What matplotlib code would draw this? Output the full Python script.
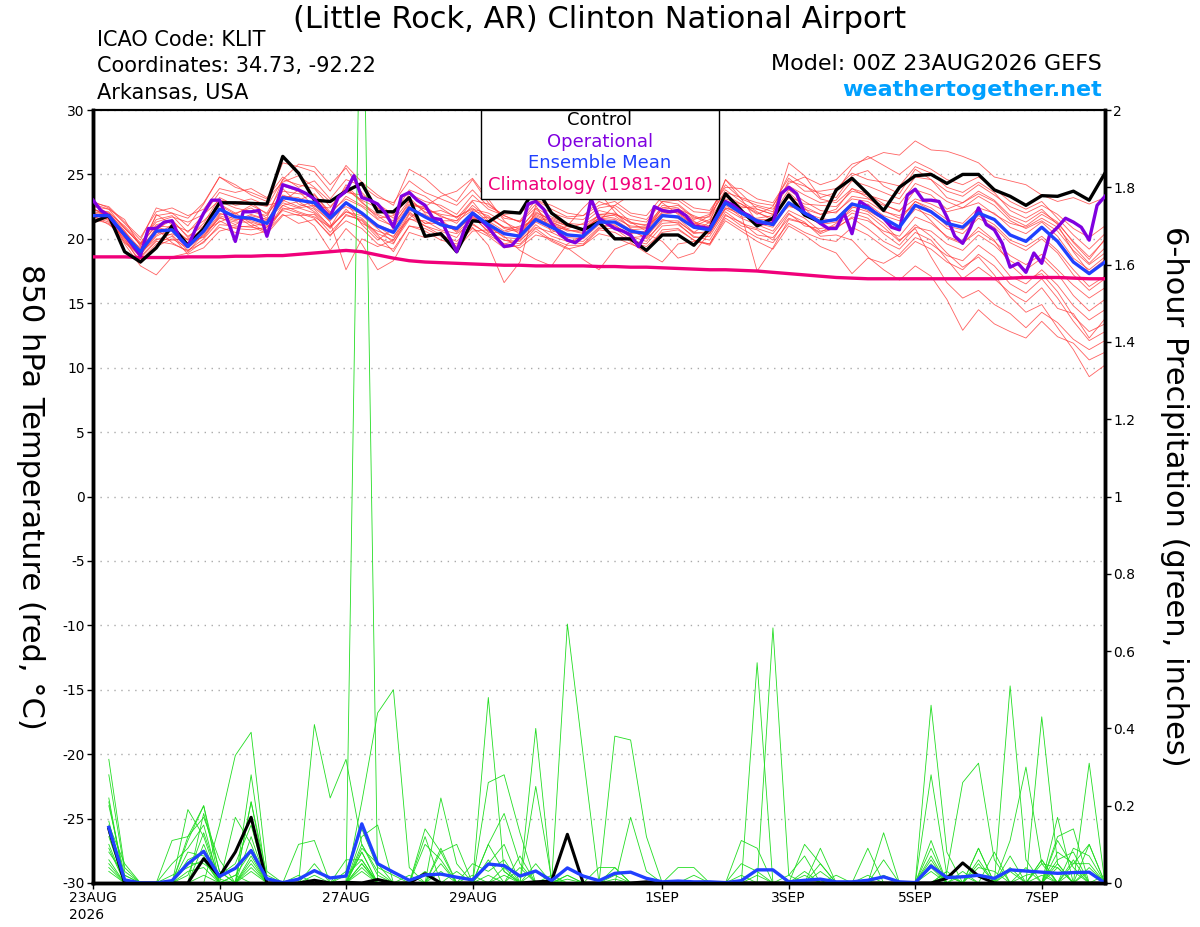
import numpy as np
import matplotlib
matplotlib.use("Agg")
import matplotlib.pyplot as plt
from matplotlib.patches import Rectangle
from matplotlib.ticker import FuncFormatter

plt.rcParams["font.family"] = ["DejaVu Sans"]
plt.rcParams["axes.unicode_minus"] = False

# forecast hours from 00Z 23AUG2026
temp_hours = np.arange(0, 385, 6)
op_hours = np.arange(0, 385, 3)
precip_hours = np.arange(6, 385, 6)

tick_hours = [0, 48, 96, 144, 216, 264, 312, 360]
tick_labels = ["23AUG\n2026", "25AUG", "27AUG", "29AUG", "1SEP", "3SEP", "5SEP", "7SEP"]

# 850 hPa temperature (C)
control_t = [21.3, 21.8, 19.0, 18.2, 19.3, 21.0, 19.5, 20.8, 22.8, 22.8,
             22.75, 22.7, 26.4, 25.1, 23.0, 22.9, 23.7, 24.3, 22.1, 22.1,
             23.2, 20.2, 20.4, 19.0, 21.4, 21.3, 22.1, 22.0, 24.0, 22.0,
             21.1, 20.7, 21.3, 20.0, 20.0, 19.1, 20.3, 20.3, 19.5, 20.8,
             23.5, 22.2, 21.0, 21.6, 23.4, 21.85, 21.3, 23.8, 24.7, 23.5,
             22.2, 24.0, 24.9, 25.0, 24.3, 25.0, 25.0, 23.8, 23.3, 22.6,
             23.35, 23.3, 23.7, 23.0, 25.1]

# operational run, 3-hourly
oper_t = [23.0, 22.2, 21.8, 21.0, 20.3, 19.5, 18.7, 20.8, 20.8, 21.3,
          21.4, 20.0, 19.4, 20.8, 22.0, 23.0, 23.0, 21.5, 19.8, 22.1,
          22.1, 22.2, 20.2, 22.2, 24.2, 24.0, 23.8, 23.5, 23.1, 22.3,
          21.7, 23.2, 23.7, 24.9, 23.2, 23.0, 22.7, 22.0, 20.9, 23.3,
          23.6, 23.0, 22.6, 21.6, 21.5, 20.2, 19.0, 20.8, 22.0, 21.5,
          20.9, 20.1, 19.4, 19.5, 20.2, 22.7, 22.9, 22.3, 21.2, 20.4,
          19.9, 19.7, 20.2, 23.1, 21.6, 21.2, 20.8, 20.6, 20.3, 19.4,
          20.5, 22.5, 22.2, 22.1, 22.2, 21.8, 21.0, 20.9, 20.8, 21.8,
          22.9, 22.6, 22.1, 21.8, 21.3, 21.2, 21.2, 23.5, 24.0, 23.5,
          22.0, 21.7, 21.2, 20.8, 20.8, 22.0, 20.4, 22.9, 22.5, 22.0,
          21.6, 20.9, 20.7, 23.4, 23.85, 23.0, 23.0, 22.9, 21.7, 20.2,
          19.65, 20.9, 22.4, 21.1, 20.7, 19.65, 17.8, 18.1, 17.4, 18.9,
          18.1, 20.3, 20.9, 21.6, 21.3, 20.9, 19.9, 22.6, 23.3]

mean_t = [21.8, 21.8, 20.3, 19.0, 20.6, 20.7, 19.4, 20.6, 22.3, 21.7,
          21.6, 21.2, 23.2, 23.0, 22.8, 21.6, 22.8, 22.0, 21.0, 20.5,
          22.4, 21.7, 21.1, 20.8, 22.0, 21.1, 20.4, 20.2, 21.5, 20.9,
          20.3, 20.2, 21.3, 21.3, 20.6, 20.4, 21.8, 21.7, 20.9, 20.7,
          22.8, 22.0, 21.4, 21.1, 22.8, 22.0, 21.3, 21.5, 22.7, 22.4,
          21.6, 20.9, 22.6, 22.1, 21.2, 20.9, 22.0, 21.5, 20.3, 19.8,
          20.9, 19.8, 18.2, 17.3, 18.2]

clim_t = [18.6, 18.6, 18.6, 18.55, 18.55, 18.55, 18.6, 18.6, 18.6, 18.65,
          18.65, 18.7, 18.7, 18.8, 18.9, 19.0, 19.1, 19.0, 18.75, 18.5,
          18.3, 18.2, 18.15, 18.1, 18.05, 18.0, 17.95, 17.95, 17.9, 17.9,
          17.9, 17.9, 17.85, 17.85, 17.8, 17.8, 17.75, 17.7, 17.65, 17.6,
          17.6, 17.55, 17.5, 17.4, 17.3, 17.2, 17.1, 17.0, 16.95, 16.9,
          16.9, 16.9, 16.9, 16.9, 16.9, 16.9, 16.9, 16.9, 16.95, 17.0,
          17.0, 17.0, 16.95, 16.9, 16.9]

members_t = [
    [22.5, 22.3, 20.8, 19.6, 21.5, 21.8, 20.5, 21.9, 23.6, 23.2,
     22.8, 22.5, 24.6, 24.2, 23.9, 22.5, 23.8, 23.0, 22.4, 21.6,
     23.5, 22.9, 22.6, 21.9, 23.4, 22.3, 21.8, 21.3, 22.7, 22.0,
     21.6, 21.5, 22.4, 22.6, 21.8, 21.5, 22.9, 23.0, 22.1, 22.0,
     24.2, 23.1, 22.6, 22.3, 24.1, 23.4, 22.8, 23.0, 24.5, 24.1,
     23.6, 23.1, 24.8, 24.6, 23.7, 23.3, 24.2, 23.4, 22.5, 22.0,
     22.6, 21.9, 20.8, 20.1, 21.0],
    [22.0, 21.4, 19.6, 17.9, 17.2, 18.6, 18.9, 19.8, 20.9, 20.5,
     20.3, 20.6, 21.9, 21.2, 21.5, 20.3, 21.4, 20.8, 19.6, 19.2,
     21.0, 20.6, 19.9, 19.6, 20.8, 20.2, 19.3, 19.5, 20.6, 19.8,
     19.2, 19.5, 20.4, 20.1, 19.6, 19.1, 20.7, 20.8, 19.9, 19.6,
     21.6, 20.8, 20.1, 19.7, 21.2, 20.5, 20.0, 19.8, 20.9, 20.3,
     19.4, 18.6, 19.8, 19.2, 18.2, 17.6, 18.8, 17.9, 16.5, 15.8,
     16.9, 15.4, 13.6, 12.1, 12.8],
    [22.9, 22.4, 21.2, 19.9, 22.4, 22.0, 21.0, 22.7, 24.8, 24.2,
     23.4, 22.9, 25.9, 25.6, 25.2, 23.7, 25.7, 24.4, 23.4, 22.6,
     25.4, 24.7, 23.6, 22.9, 24.6, 22.8, 21.6, 21.4, 23.0, 22.6,
     22.0, 21.8, 22.9, 22.4, 21.3, 20.6, 22.4, 22.6, 21.6, 21.7,
     23.8, 22.9, 22.1, 21.4, 23.6, 22.5, 21.9, 22.3, 23.9, 23.5,
     22.7, 22.1, 23.8, 23.4, 22.3, 22.8, 23.5, 22.9, 21.6, 21.0,
     21.9, 21.2, 19.8, 18.6, 19.9],
    [21.6, 21.9, 20.1, 18.8, 20.2, 20.8, 19.9, 20.1, 21.7, 21.1,
     21.8, 21.5, 22.6, 22.9, 22.1, 21.0, 22.1, 21.6, 20.4, 19.9,
     22.0, 21.2, 21.5, 20.5, 21.5, 21.7, 20.9, 20.6, 21.9, 21.3,
     20.7, 20.4, 21.9, 21.8, 20.9, 20.9, 22.3, 22.0, 21.2, 20.9,
     22.6, 21.7, 21.6, 21.8, 23.2, 22.4, 21.1, 21.3, 22.2, 21.9,
     20.9, 19.8, 21.1, 20.2, 18.9, 17.8, 18.6, 17.2, 15.5, 14.3,
     14.9, 13.1, 11.4, 9.3, 10.2],
    [21.3, 21.7, 20.6, 19.2, 20.8, 19.7, 19.0, 20.4, 21.9, 22.0,
     21.2, 20.5, 22.4, 22.0, 21.6, 20.2, 21.9, 21.4, 20.1, 19.6,
     21.9, 21.0, 20.3, 19.8, 20.9, 19.5, 16.6, 18.2, 22.6, 20.5,
     21.0, 22.4, 23.6, 22.1, 20.8, 20.0, 21.2, 21.3, 20.5, 20.4,
     22.3, 21.6, 21.1, 20.6, 22.2, 21.6, 20.6, 20.8, 21.7, 21.4,
     20.6, 20.2, 21.7, 21.2, 20.2, 19.7, 20.6, 19.8, 18.7, 18.0,
     18.8, 17.6, 16.4, 15.4, 16.2],
    [22.2, 22.1, 20.9, 19.5, 21.1, 21.4, 20.2, 21.0, 22.9, 22.4,
     22.1, 21.8, 23.7, 23.5, 23.4, 22.1, 23.1, 22.5, 21.5, 21.0,
     22.9, 22.3, 21.8, 21.2, 22.6, 21.6, 20.9, 20.9, 22.1, 21.4,
     21.0, 20.8, 21.9, 22.0, 21.2, 21.1, 22.4, 22.3, 21.5, 21.9,
     23.6, 23.2, 22.8, 22.6, 24.3, 24.8, 24.2, 24.6, 25.8, 26.2,
     26.7, 26.5, 27.6, 26.9, 26.8, 26.4, 25.9, 24.8, 24.5, 24.2,
     23.4, 22.9, 23.2, 22.7, 23.2],
    [21.5, 21.2, 19.8, 18.3, 19.6, 20.2, 18.8, 19.3, 20.6, 20.9,
     21.0, 20.4, 21.8, 21.9, 21.0, 19.1, 20.8, 19.6, 17.6, 18.3,
     20.5, 20.1, 20.4, 19.4, 21.1, 20.4, 19.9, 19.6, 20.8, 19.9,
     19.3, 18.4, 17.6, 19.2, 19.7, 18.9, 18.2, 19.6, 19.8, 19.6,
     21.8, 21.3, 20.3, 20.1, 21.6, 21.2, 20.4, 20.9, 21.6, 20.8,
     19.8, 19.2, 20.5, 19.9, 18.4, 16.9, 17.8, 16.9, 15.8, 15.1,
     16.2, 14.6, 14.2, 12.3, 13.8],
    [22.4, 21.6, 20.4, 19.1, 21.9, 21.1, 20.6, 21.4, 22.6, 21.9,
     22.6, 22.0, 24.1, 23.7, 22.5, 22.4, 24.0, 22.8, 21.9, 21.4,
     23.0, 22.1, 21.4, 21.4, 22.9, 21.4, 20.6, 21.0, 21.4, 21.6,
     21.1, 20.6, 21.6, 21.9, 21.5, 21.3, 22.9, 22.7, 21.7, 21.2,
     23.3, 22.5, 22.3, 21.9, 23.8, 22.9, 22.2, 22.0, 23.3, 23.1,
     22.6, 22.2, 23.1, 22.7, 22.1, 22.4, 22.8, 21.9, 21.2, 20.9,
     21.6, 20.9, 19.4, 18.1, 19.3],
    [21.9, 21.5, 19.9, 18.6, 19.9, 20.4, 19.7, 20.9, 22.0, 21.5,
     21.5, 21.4, 23.0, 22.5, 22.9, 21.8, 22.5, 21.9, 21.0, 20.1,
     22.2, 21.9, 21.2, 20.9, 21.6, 21.0, 20.1, 20.0, 21.3, 20.7,
     20.1, 20.0, 21.1, 20.9, 20.2, 19.8, 21.4, 21.4, 20.4, 20.6,
     22.4, 22.1, 21.5, 21.5, 22.6, 22.0, 21.6, 21.4, 22.5, 22.1,
     21.2, 19.9, 20.8, 18.6, 16.6, 15.4, 16.0, 14.9, 14.2, 13.1,
     14.3, 13.5, 12.2, 11.4, 12.1],
    [22.7, 22.3, 21.5, 19.4, 21.8, 22.0, 21.6, 22.8, 24.8, 24.0,
     23.6, 23.1, 24.4, 24.9, 24.0, 22.9, 23.6, 23.4, 22.7, 21.9,
     23.8, 23.3, 22.4, 21.6, 23.0, 22.7, 21.8, 21.3, 22.4, 21.7,
     21.2, 21.1, 21.8, 21.6, 21.0, 20.9, 22.0, 22.3, 21.8, 21.3,
     23.1, 22.7, 21.9, 22.5, 25.0, 24.2, 23.1, 22.8, 23.9, 23.2,
     22.2, 21.6, 22.9, 22.2, 21.0, 20.7, 21.8, 21.1, 19.9, 19.4,
     20.2, 19.1, 17.6, 16.3, 17.1],
    [21.9, 22.0, 20.6, 18.9, 20.3, 21.1, 19.5, 20.2, 21.8, 21.4,
     21.9, 21.5, 22.8, 22.4, 22.6, 21.3, 17.6, 20.0, 19.4, 19.9,
     21.6, 22.5, 23.3, 23.7, 24.7, 23.1, 21.4, 20.3, 21.7, 21.0,
     20.7, 20.5, 21.5, 21.0, 20.4, 20.6, 22.1, 22.1, 21.4, 20.4,
     22.4, 21.9, 17.5, 19.3, 21.5, 21.2, 20.5, 21.2, 22.4, 22.7,
     21.8, 21.4, 22.9, 22.4, 21.5, 21.2, 22.4, 22.0, 20.9, 20.4,
     21.3, 20.2, 18.5, 17.6, 18.6],
    [22.1, 21.9, 20.8, 19.6, 21.0, 20.9, 19.9, 20.8, 22.7, 22.0,
     22.4, 21.6, 24.6, 25.8, 25.6, 24.2, 25.5, 23.6, 22.4, 21.2,
     22.7, 22.3, 21.9, 21.7, 22.4, 21.3, 20.4, 20.3, 22.0, 21.5,
     21.0, 20.8, 21.6, 21.3, 20.6, 20.1, 21.8, 21.6, 20.5, 21.3,
     24.6, 23.5, 22.3, 21.9, 25.9, 24.9, 23.2, 23.6, 25.5, 26.4,
     25.7, 25.0, 26.0, 25.4, 24.6, 24.2, 24.8, 23.9, 22.9, 22.3,
     22.9, 21.6, 20.3, 19.2, 20.4],
    [21.4, 21.6, 20.1, 18.5, 19.8, 19.6, 19.1, 20.0, 21.4, 20.8,
     20.7, 20.9, 22.3, 22.4, 22.0, 20.8, 22.3, 21.2, 20.6, 20.2,
     21.6, 21.0, 20.6, 20.1, 21.7, 20.6, 19.9, 19.8, 21.1, 20.2,
     19.8, 19.6, 20.8, 20.8, 19.9, 19.6, 21.0, 21.1, 20.2, 19.9,
     21.9, 21.0, 20.7, 19.9, 21.9, 21.3, 20.2, 20.3, 19.9, 18.6,
     17.6, 16.8, 17.9, 17.1, 15.3, 12.9, 14.5, 13.4, 12.8, 12.3,
     13.6, 12.4, 11.9, 10.6, 11.2],
    [22.3, 21.8, 20.3, 19.3, 20.7, 21.5, 20.1, 21.2, 23.2, 22.6,
     22.8, 21.9, 23.4, 23.0, 23.5, 21.9, 23.3, 22.6, 21.8, 20.9,
     22.6, 22.5, 21.7, 21.4, 22.2, 21.8, 20.8, 20.5, 21.8, 21.2,
     20.6, 20.7, 21.6, 21.5, 20.7, 20.8, 22.6, 22.4, 21.3, 21.0,
     22.9, 22.4, 22.5, 22.1, 24.5, 24.1, 23.5, 23.2, 24.9, 25.3,
     24.1, 23.5, 25.4, 24.6, 23.2, 22.8, 23.7, 23.0, 21.8, 21.3,
     22.1, 21.3, 19.7, 18.4, 20.0],
    [21.7, 21.3, 20.0, 18.1, 19.4, 20.0, 19.3, 20.3, 21.6, 21.3,
     21.3, 20.9, 22.2, 21.8, 21.9, 20.5, 21.8, 21.5, 20.3, 19.0,
     21.0, 20.8, 20.2, 19.2, 20.6, 20.7, 19.6, 19.3, 20.3, 20.0,
     19.5, 19.5, 20.7, 20.5, 19.8, 19.4, 20.5, 20.7, 19.9, 19.5,
     21.4, 20.6, 19.8, 19.2, 21.0, 20.3, 19.4, 18.9, 17.3, 18.5,
     18.1, 18.8, 20.1, 19.6, 18.7, 18.3, 19.5, 18.6, 17.1, 16.5,
     17.6, 16.4, 14.8, 13.7, 14.5],
    [22.0, 21.7, 20.5, 19.0, 20.9, 20.6, 19.4, 20.8, 22.2, 21.8,
     21.4, 21.0, 23.3, 23.2, 22.4, 21.4, 22.7, 22.0, 21.1, 20.6,
     22.3, 21.8, 21.0, 20.7, 21.9, 20.9, 20.2, 19.1, 18.4, 17.9,
     19.6, 20.3, 21.2, 21.3, 20.5, 20.4, 19.8, 18.5, 18.9, 20.5,
     22.7, 22.1, 21.2, 20.9, 22.7, 21.9, 21.1, 21.6, 22.8, 22.2,
     21.5, 20.9, 22.3, 21.8, 20.8, 20.4, 21.6, 20.9, 19.7, 19.1,
     20.0, 18.9, 17.2, 16.0, 16.9],
    [22.6, 22.0, 21.0, 19.7, 21.3, 21.7, 21.3, 21.9, 23.0, 22.8,
     23.1, 22.6, 22.9, 23.8, 23.1, 22.0, 24.2, 22.9, 21.6, 21.8,
     23.2, 22.0, 22.2, 21.7, 22.3, 22.0, 21.3, 20.7, 22.3, 21.3,
     20.8, 21.2, 22.2, 21.9, 21.3, 21.0, 21.9, 22.1, 21.0, 21.5,
     23.4, 22.7, 22.0, 21.6, 23.3, 22.7, 22.6, 22.5, 23.7, 23.4,
     23.0, 22.7, 24.3, 23.8, 22.9, 22.4, 23.3, 22.6, 21.4, 20.8,
     21.4, 20.6, 19.1, 18.0, 18.9],
    [21.2, 21.8, 19.7, 18.7, 20.5, 20.3, 19.1, 19.7, 21.1, 21.0,
     20.9, 20.7, 22.6, 22.1, 21.7, 20.9, 22.1, 21.8, 20.8, 19.7,
     21.5, 21.4, 20.7, 20.4, 21.2, 20.3, 19.6, 19.9, 20.9, 20.5,
     19.9, 19.8, 20.9, 21.1, 20.1, 20.2, 21.5, 21.2, 20.1, 20.2,
     22.1, 21.2, 20.8, 20.4, 22.0, 21.0, 20.8, 21.0, 22.0, 21.6,
     20.4, 19.5, 20.9, 20.6, 19.6, 19.1, 20.3, 19.5, 18.3, 17.6,
     18.5, 17.3, 15.6, 14.4, 15.3],
    [22.8, 22.5, 21.3, 20.1, 22.1, 22.4, 21.8, 22.3, 23.9, 23.6,
     23.9, 23.2, 24.8, 24.0, 24.5, 23.1, 24.6, 24.1, 23.2, 22.8,
     24.5, 23.6, 23.1, 22.6, 23.8, 22.5, 21.9, 22.0, 23.0, 22.3,
     21.7, 21.8, 22.6, 22.9, 22.0, 21.8, 23.3, 23.2, 22.4, 22.2,
     24.0, 23.9, 23.1, 22.8, 24.7, 23.7, 23.7, 23.9, 25.1, 24.6,
     24.4, 24.1, 25.6, 25.1, 24.0, 23.6, 24.4, 23.6, 22.2, 21.6,
     22.3, 21.1, 19.0, 17.4, 18.4],
    [21.8, 21.1, 20.2, 18.9, 20.0, 19.9, 20.0, 20.6, 21.3, 21.8,
     21.0, 21.2, 23.9, 22.7, 22.3, 20.9, 22.9, 21.1, 19.9, 20.8,
     22.1, 21.2, 21.2, 20.6, 21.8, 20.5, 20.5, 20.8, 21.6, 21.1,
     20.4, 20.1, 21.4, 22.6, 23.4, 24.0, 22.8, 21.9, 21.1, 21.8,
     24.6, 23.1, 21.3, 21.4, 22.5, 22.3, 21.9, 22.1, 23.1, 22.9,
     22.1, 21.8, 22.6, 21.4, 20.1, 19.6, 20.9, 19.9, 18.0, 16.9,
     17.3, 15.9, 14.0, 12.8, 13.4],
]

# 6-hour precipitation (inches)
control_p = [0.14, 0, 0, 0, 0, 0, 0.063, 0.017, 0.08, 0.17,
             0, 0, 0, 0.007, 0, 0.002, 0, 0.009, 0, 0,
             0.024, 0, 0, 0, 0, 0, 0, 0.003, 0.005, 0.126,
             0, 0, 0, 0, 0.003, 0, 0, 0, 0, 0,
             0, 0, 0, 0, 0, 0, 0, 0, 0, 0,
             0, 0, 0, 0.012, 0.052, 0.018, 0, 0, 0, 0,
             0, 0, 0, 0]

mean_p = [0.144, 0.008, 0, 0, 0.006, 0.05, 0.082, 0.017, 0.038, 0.084,
          0.011, 0.001, 0.01, 0.032, 0.013, 0.018, 0.153, 0.05, 0.028, 0.007,
          0.021, 0.023, 0.015, 0.008, 0.049, 0.045, 0.018, 0.031, 0.006, 0.039,
          0.018, 0.006, 0.025, 0.028, 0.012, 0.003, 0.005, 0.003, 0.003, 0.001,
          0.006, 0.034, 0.034, 0.003, 0.007, 0.01, 0.003, 0.003, 0.007, 0.016,
          0.003, 0.001, 0.044, 0.014, 0.016, 0.02, 0.012, 0.034, 0.031, 0.028,
          0.025, 0.027, 0.028, 0]

members_p = [
    [.32, .04, 0, 0, 0, 0, .10, 0,  0, .21, .02, 0, 0, 0, 0, 0,
     .08, 0, 0, 0, 0, .22, .05, 0,  0, 0, 0, 0, 0, .67, .33, 0,
     0, 0, 0, 0, 0, 0, 0, 0,  0, 0, 0, 0, .10, .05, 0, 0,
     0, 0, 0, 0, .46, .08, 0, 0,  0, 0, 0, .06, 0, 0, 0, 0],
    [.28, .03, 0, 0, 0, .19, .12, 0,  0, 0, 0, 0, 0, 0, 0, 0,
     2.6, .01, 0, 0, 0, 0, 0, 0,  .10, .03, 0, 0, 0, 0, 0, 0,
     .04, 0, 0, 0, 0, 0, 0, 0,  0, .57, 0, 0, 0, 0, 0, 0,
     0, 0, 0, 0, 0, 0, 0, .09,  0, .51, .06, 0, 0, 0, .10, 0],
    [.22, 0, 0, 0, .11, .12, .20, .03,  0, 0, 0, 0, 0, .41, .22, .32,
     .10, .02, 0, 0, 0, 0, 0, 0,  0, 0, 0, .40, 0, 0, 0, 0,
     0, 0, 0, 0, 0, 0, 0, 0,  0, 0, .66, .02, 0, 0, 0, 0,
     0, 0, 0, 0, 0, .03, .26, .31,  .06, 0, 0, 0, .17, 0, 0, 0],
    [.21, 0, 0, 0, 0, 0, 0, .15,  .33, .39, .03, 0, 0, 0, 0, 0,
     .21, .44, .50, .04, 0, 0, 0, 0,  .48, .03, 0, 0, 0, 0, 0, 0,
     .38, .37, .12, 0, 0, 0, 0, 0,  0, 0, 0, 0, 0, 0, 0, 0,
     0, 0, 0, 0, .28, .02, 0, 0,  0, 0, 0, .43, .05, 0, 0, 0],
    [.16, 0, 0, 0, 0, .12, .17, .06,  0, .28, 0, 0, .10, .11, 0, 0,
     0, 0, 0, 0, .14, .08, 0, 0,  .26, .28, .13, 0, 0, 0, 0, 0,
     0, 0, 0, 0, 0, 0, 0, 0,  .11, .09, 0, 0, 0, 0, 0, 0,
     0, .13, 0, 0, .11, 0, 0, 0,  0, .11, .30, .05, 0, 0, .31, 0],
    [.15, .05, 0, 0, 0, .11, .20, 0,  0, .21, 0, 0, 0, 0, 0, .06,
     .06, 0, 0, 0, 0, .09, 0, 0,  0, 0, 0, .25, .01, 0, 0, 0,
     0, .17, .03, 0, 0, 0, 0, 0,  0, 0, 0, 0, 0, .09, 0, 0,
     .09, 0, 0, 0, 0, 0, .03, 0,  0, 0, 0, 0, .12, .14, 0, 0],
    [.12, 0, 0, 0, .05, .09, .15, 0,  .17, .10, 0, 0, 0, 0, 0, 0,
     .12, .15, 0, 0, .12, 0, 0, 0,  .10, .18, .05, 0, 0, 0, 0, 0,
     0, 0, 0, 0, .04, .04, 0, 0,  0, 0, 0, .02, .07, 0, 0, 0,
     0, 0, 0, 0, .09, 0, 0, .09,  0, 0, 0, .06, 0, .05, .10, 0],
    [.10, 0, 0, 0, 0, .05, .05, .02,  .05, .15, 0, 0, 0, 0, 0, 0,
     .08, 0, 0, 0, 0, .08, .10, 0,  0, 0, 0, 0, 0, .02, 0, .04,
     .04, 0, 0, 0, 0, 0, 0, 0,  .05, .03, 0, 0, 0, 0, 0, 0,
     0, .06, 0, 0, .06, 0, 0, 0,  .08, 0, 0, 0, .06, .08, 0, 0],
    [.08, .02, 0, 0, 0, .06, .08, 0,  0, .07, 0, 0, 0, .05, 0, 0,
     .09, .05, 0, 0, 0, 0, 0, .05,  .03, .06, 0, .05, 0, 0, 0, 0,
     0, 0, 0, 0, 0, .02, 0, 0,  0, 0, 0, 0, 0, .05, 0, 0,
     0, 0, 0, 0, 0, .03, 0, 0,  0, .07, 0, 0, .05, 0, .04, 0],
    [.06, 0, 0, 0, 0, 0, .18, .03,  0, .05, 0, 0, .02, 0, 0, 0,
     .05, 0, 0, 0, .10, .06, 0, 0,  0, 0, .07, 0, .02, 0, 0, 0,
     0, 0, 0, 0, 0, 0, 0, 0,  0, 0, 0, 0, .03, 0, 0, 0,
     .02, 0, 0, 0, .04, 0, .02, 0,  0, 0, .02, .03, 0, .09, .07, 0],
    [.04, 0, 0, 0, 0, .03, .04, 0,  .02, .08, 0, 0, 0, 0, 0, .03,
     .14, .04, .02, 0, 0, 0, .03, 0,  .05, .10, 0, 0, 0, 0, 0, 0,
     0, 0, 0, 0, 0, 0, 0, 0,  .02, 0, 0, 0, 0, 0, 0, 0,
     0, 0, 0, 0, 0, 0, 0, .04,  .03, 0, 0, 0, .11, .04, 0, .02],
    [.03, 0, 0, 0, 0, .02, .13, .01,  0, .03, 0, 0, 0, .02, 0, 0,
     .03, 0, 0, .02, 0, .05, 0, 0,  .02, 0, 0, 0, 0, 0, 0, 0,
     .02, 0, 0, 0, 0, 0, 0, 0,  0, 0, 0, 0, 0, 0, .02, 0,
     0, 0, 0, 0, .03, 0, 0, 0,  0, .04, 0, .02, 0, .06, 0, 0],
    [.20, .02, 0, 0, 0, 0, .06, 0,  .02, 0, 0, 0, 0, 0, 0, 0,
     .04, 0, 0, 0, 0, 0, 0, .02,  0, .04, 0, 0, 0, .01, 0, 0,
     0, 0, 0, 0, 0, 0, 0, 0,  0, .02, 0, 0, 0, 0, 0, 0,
     0, 0, 0, 0, 0, .02, 0, .05,  0, 0, 0, 0, .04, 0, .03, 0],
    [.13, 0, 0, 0, 0, .08, .07, 0,  0, .12, 0, 0, 0, 0, 0, 0,
     .10, .03, 0, 0, 0, 0, 0, 0,  .06, 0, .04, 0, 0, 0, 0, 0,
     0, 0, 0, 0, 0, 0, 0, 0,  0, 0, 0, 0, .02, 0, 0, 0,
     0, 0, 0, 0, .05, 0, 0, 0,  0, .03, 0, 0, .08, .05, .05, 0],
    [.05, 0, 0, 0, 0, 0, .02, 0,  0, .04, 0, 0, 0, 0, 0, .02,
     .06, 0, 0, 0, .03, 0, 0, 0,  0, 0, 0, .03, 0, 0, 0, 0,
     .01, 0, 0, 0, 0, 0, 0, 0,  0, 0, 0, 0, 0, .03, 0, 0,
     0, 0, 0, 0, 0, 0, 0, .06,  0, 0, .04, 0, 0, .03, 0, 0],
    [.09, 0, 0, 0, .02, .04, .06, 0,  0, .06, 0, 0, 0, 0, 0, 0,
     .05, 0, 0, 0, 0, .03, 0, 0,  0, .02, 0, 0, 0, .02, 0, 0,
     0, 0, 0, 0, 0, 0, 0, 0,  0, 0, 0, 0, 0, 0, 0, 0,
     0, .02, 0, 0, .07, 0, 0, 0,  0, 0, 0, .05, .04, 0, 0, 0],
]

C_CONTROL = "black"
C_OPER = "#8000e0"
C_MEAN = "#2040ff"
C_CLIM = "#f0007a"
C_MEMBER = "#ff3a3a"
C_PRECIP = "#22dd22"

fig = plt.figure(figsize=(12, 9.27), dpi=100)
ax = fig.add_axes([93 / 1200, 44 / 927, 1012 / 1200, 773 / 927])
ax2 = ax.twinx()   # precipitation
ax3 = ax.twinx()   # main temperature lines on top

# ensemble members (temperature)
for m in members_t:
    ax.plot(temp_hours, m, color=C_MEMBER, lw=0.6, alpha=0.8)

ax.set_xlim(0, 384)
ax.set_ylim(-30, 30)
ax.set_yticks(np.arange(-30, 31, 5))
ax.yaxis.grid(True, linestyle=(0, (1, 4)), color="#aaaaaa", lw=1.0)
ax.set_xticks(tick_hours)
ax.set_xticklabels(tick_labels, multialignment="left")
ax.tick_params(axis="x", direction="out", length=4, width=1, labelsize=10, pad=2)
ax.tick_params(axis="y", direction="out", length=4, width=1, labelsize=10, pad=2)
ax.set_ylabel("850 hPa Temperature (red, \u00b0C)", fontsize=22, rotation=270,
              ha="center", va="center")
ax.yaxis.set_label_coords(-0.062, 0.5)

# precipitation
for m in members_p:
    ax2.plot(precip_hours, m, color=C_PRECIP, lw=0.6)
ax2.plot(precip_hours, control_p, color=C_CONTROL, lw=2.2)
ax2.plot(precip_hours, mean_p, color=C_MEAN, lw=2.4)
ax2.set_ylim(0, 2)
ax2.set_yticks(np.arange(0, 2.01, 0.2))
ax2.yaxis.set_major_formatter(FuncFormatter(lambda v, p: f"{v:g}"))
ax2.tick_params(axis="y", direction="out", length=4, width=1, labelsize=10, pad=2)
ax2.set_ylabel("6-hour Precipitation (green, inches)", fontsize=22, rotation=270,
               ha="center", va="center")
ax2.yaxis.set_label_coords(1.069, 0.5)

# main temperature lines
ax3.plot(temp_hours, clim_t, color=C_CLIM, lw=2.4)
ax3.plot(temp_hours, control_t, color=C_CONTROL, lw=2.4)
ax3.plot(op_hours, oper_t, color=C_OPER, lw=2.4)
ax3.plot(temp_hours, mean_t, color=C_MEAN, lw=2.4)
ax3.set_ylim(-30, 30)
ax3.set_xlim(0, 384)
ax3.set_yticks([])
for s in ax3.spines.values():
    s.set_visible(False)

for a in (ax, ax2):
    a.spines["left"].set_linewidth(2.5)
    a.spines["right"].set_linewidth(2.5)
    a.spines["bottom"].set_linewidth(2.5)
    a.spines["top"].set_linewidth(1.5)

# legend box
ax3.add_patch(Rectangle((0.3834, 0.8849), 0.2352, 0.1151, transform=ax3.transAxes,
                        facecolor="white", edgecolor="black", lw=1.0, zorder=10))
leg_labels = ["Control", "Operational", "Ensemble Mean", "Climatology (1981-2010)"]
leg_colors = [C_CONTROL, C_OPER, C_MEAN, C_CLIM]
for k, (lab, col) in enumerate(zip(leg_labels, leg_colors)):
    ax3.text(0.501, 0.987 - k * 0.0278, lab, color=col, fontsize=13,
             ha="center", va="center", transform=ax3.transAxes, zorder=11)

# header texts
fig.text(0.5, 0.979, "(Little Rock, AR) Clinton National Airport", fontsize=22,
         ha="center", va="center")
fig.text(0.081, 0.957, "ICAO Code: KLIT", fontsize=15, ha="left", va="center")
fig.text(0.081, 0.929, "Coordinates: 34.73, -92.22", fontsize=15, ha="left", va="center")
fig.text(0.081, 0.900, "Arkansas, USA", fontsize=15, ha="left", va="center")
fig.text(0.918, 0.931, "Model: 00Z 23AUG2026 GEFS", fontsize=16, ha="right", va="center")
fig.text(0.918, 0.903, "weathertogether.net", fontsize=16, fontweight="bold",
         color="#00a0ff", ha="right", va="center")

fig.savefig("out.png", dpi=100)
